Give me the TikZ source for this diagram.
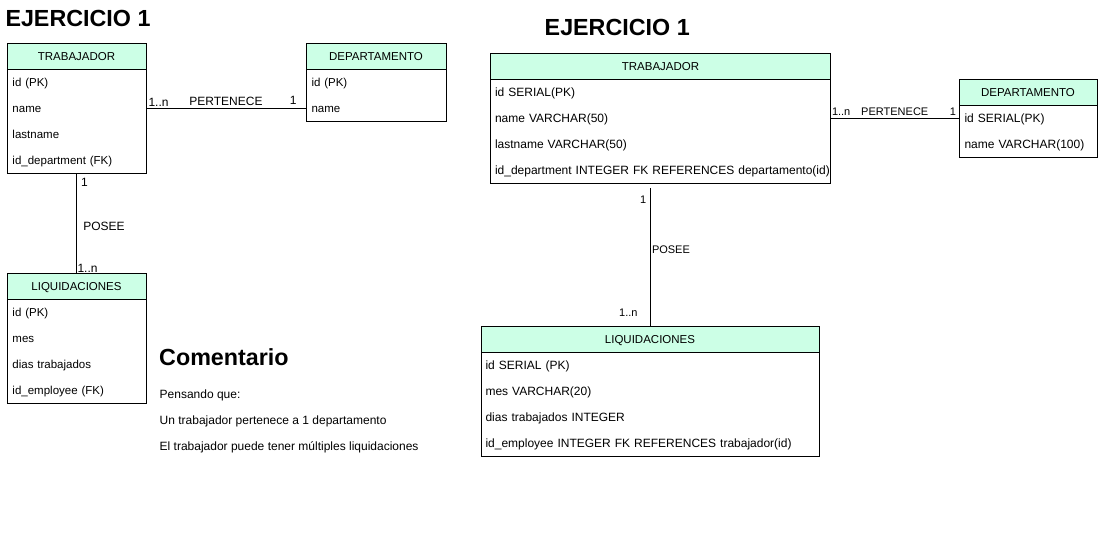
\documentclass[tikz,border=0pt]{standalone}
\usepackage{fontspec}
\setmainfont{Liberation Sans}
\usepackage{tikz}
\usetikzlibrary{positioning, fit}
\definecolor{HdrGreen}{RGB}{204,255,230}

\begin{document}
\begin{tikzpicture}[
    x=1pt, y=-1pt,
    node distance=0pt,
    hdr/.style={rectangle, draw, fill=HdrGreen, line width=1pt, minimum width=#1,
                minimum height=26pt, inner sep=0pt, outer sep=0pt, text height=8.4pt,
                text depth=0pt, font=\fontsize{11.5}{13}\selectfont},
    fld/.style={rectangle, text width=#1, minimum height=26pt, inner xsep=5.5pt,
                inner ysep=0pt, outer sep=0pt, text height=8.4pt, text depth=0pt,
                align=left, font=\fontsize{11.5}{13}\selectfont},
    fldw/.style={fld=#1, inner xsep=4.5pt, font=\fontsize{12}{14}\selectfont},
    box/.style={draw, line width=1pt, inner sep=0pt},
    rel/.style={line width=1pt},
    lbl/.style={font=\fontsize{12}{14}\selectfont},
    lblsm/.style={font=\fontsize{11}{13}\selectfont},
    txt/.style={font=\fontsize{12}{14}\selectfont, inner sep=0pt},
    title/.style={font=\bfseries\fontsize{23.3}{28}\selectfont, inner sep=0pt}
]
\useasboundingbox (0,0) rectangle (1099,549);

% ---- left: first version
\node[title, anchor=west] (tit1) at (5.3,18.5) {EJERCICIO 1};

\node[hdr=139pt, anchor=north west] (tra1) at (7,43.5) {TRABAJADOR};
\node[fld=128pt, below=of tra1]  (tra1a) {id (PK)};
\node[fld=128pt, below=of tra1a] (tra1b) {name};
\node[fld=128pt, below=of tra1b] (tra1c) {lastname};
\node[fld=128pt, below=of tra1c] (tra1d) {id\_department (FK)};
\node[box, fit=(tra1)(tra1d)] (tra1box) {};

\node[hdr=140pt, anchor=north west] (dep1) at (306,43.5) {DEPARTAMENTO};
\node[fld=129pt, below=of dep1]  (dep1a) {id (PK)};
\node[fld=129pt, below=of dep1a] (dep1b) {name};
\node[box, fit=(dep1)(dep1b)] (dep1box) {};

\node[hdr=139pt, anchor=north west] (liq1) at (7,273.5) {LIQUIDACIONES};
\node[fld=128pt, below=of liq1]  (liq1a) {id (PK)};
\node[fld=128pt, below=of liq1a] (liq1b) {mes};
\node[fld=128pt, below=of liq1b] (liq1c) {dias trabajados};
\node[fld=128pt, below=of liq1c] (liq1d) {id\_employee (FK)};
\node[box, fit=(liq1)(liq1d)] (liq1box) {};

\draw[rel] (tra1b.east) -- node[lbl, above, inner sep=2pt]{PERTENECE}
    node[lbl, pos=0, anchor=south west, inner sep=2pt]{1..n}
    node[lbl, pos=1, anchor=south east, inner sep=2pt, xshift=-7pt, yshift=2pt]{1} (dep1b.west);
\draw[rel] (tra1box.south) -- node[lbl, anchor=west, xshift=3pt, yshift=-2.5pt]{POSEE}
    node[lbl, pos=0, anchor=north west, inner sep=4pt]{1}
    node[lbl, pos=1, anchor=south west, inner sep=0.5pt]{1..n} (liq1.north);

\node[title, anchor=west] (com) at (159,357) {Comentario};
\node[txt, anchor=base west] (com1) at (159.5,398) {Pensando que:};
\node[txt, anchor=base west] (com2) at (159.5,424) {Un trabajador pertenece a 1 departamento};
\node[txt, anchor=base west] (com3) at (159.5,450) {El trabajador puede tener múltiples liquidaciones};

% ---- right: with types
\node[title, anchor=west] (tit2) at (544.5,27.5) {EJERCICIO 1};

\node[hdr=340pt, anchor=north west] (tra2) at (490.5,53.5) {TRABAJADOR};
\node[fldw=331pt, below=of tra2]  (tra2a) {id SERIAL(PK)};
\node[fldw=331pt, below=of tra2a] (tra2b) {name VARCHAR(50)};
\node[fldw=331pt, below=of tra2b] (tra2c) {lastname VARCHAR(50)};
\node[fldw=331pt, below=of tra2c] (tra2d) {\mbox{id\_department INTEGER FK REFERENCES departamento(id)}};
\node[box, fit=(tra2)(tra2d)] (tra2box) {};

\node[hdr=138pt, anchor=north west] (dep2) at (959,79.5) {DEPARTAMENTO};
\node[fld=127pt, below=of dep2, font=\fontsize{12}{14}\selectfont]  (dep2a) {id SERIAL(PK)};
\node[fld=127pt, below=of dep2a, font=\fontsize{12}{14}\selectfont] (dep2b) {name VARCHAR(100)};
\node[box, fit=(dep2)(dep2b)] (dep2box) {};

\node[hdr=338pt, anchor=north west] (liq2) at (481,326) {LIQUIDACIONES};
\node[fldw=329pt, below=of liq2]  (liq2a) {id SERIAL (PK)};
\node[fldw=329pt, below=of liq2a] (liq2b) {mes VARCHAR(20)};
\node[fldw=329pt, below=of liq2b] (liq2c) {dias trabajados INTEGER};
\node[fldw=329pt, below=of liq2c] (liq2d) {id\_employee INTEGER FK REFERENCES trabajador(id)};
\node[box, fit=(liq2)(liq2d)] (liq2box) {};

\draw[rel] (tra2b.east) -- node[lblsm, above, inner sep=2.5pt]{PERTENECE}
    node[lblsm, pos=0, anchor=south west, inner sep=1pt, yshift=1.5pt]{1..n}
    node[lblsm, pos=1, anchor=south east, inner sep=2.5pt]{1} (dep2a.west);
\draw[rel, shorten <=4pt] (tra2box.south -| liq2.north) --
    node[lblsm, anchor=west, inner sep=1.5pt, yshift=5.75pt]{POSEE}
    node[lblsm, pos=0, anchor=north east, yshift=-8pt]{1}
    node[lblsm, pos=1, anchor=south east, inner sep=0pt, xshift=-12pt, yshift=9pt]{1..n} (liq2.north);
\end{tikzpicture}
\end{document}
